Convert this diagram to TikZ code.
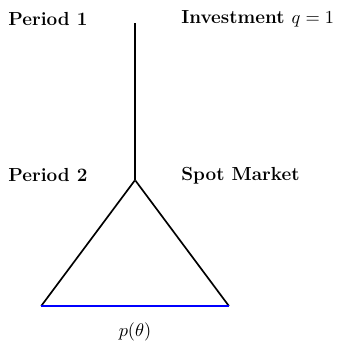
\documentclass[tikz,border=0pt]{standalone}
\usepackage{xcolor}
\usepackage{tikz}
\usetikzlibrary{positioning,calc}

\begin{document}
\begin{tikzpicture}[
  font=\fontsize{11}{13}\selectfont,
  pt/.style={inner sep=0pt,minimum size=0pt},
  lbl/.style={anchor=west,inner sep=0pt,font=\fontsize{11.3}{13}\selectfont\bfseries},
  branch/.style={line width=1pt,draw=black},
  spotline/.style={line width=1pt,draw=blue}
]
\useasboundingbox (0,0) rectangle (7.1,-7.2);
\node[pt] (root) at (2.835,-0.48) {};
\node[pt] (spot) at (2.835,-3.78) {};
\node[pt] (low) at (0.86,-6.43) {};
\node[pt] (high) at (4.81,-6.43) {};
\node[lbl] (per1) at (0.17,-0.40) {Period 1};
\node[lbl] (inv) at (3.80,-0.40) {Investment $q=1$};
\node[lbl] (per2) at (0.17,-3.68) {Period 2};
\node[lbl] (mkt) at (3.80,-3.68) {Spot Market};
\node[below=0.22cm of $(low)!0.5!(high)$] (price) {$p(\theta)$};
\draw[branch] (root)--(spot);
\draw[branch] (spot)--(low); \draw[branch] (spot)--(high);
\draw[spotline] (low)--(high);
\end{tikzpicture}
\end{document}
